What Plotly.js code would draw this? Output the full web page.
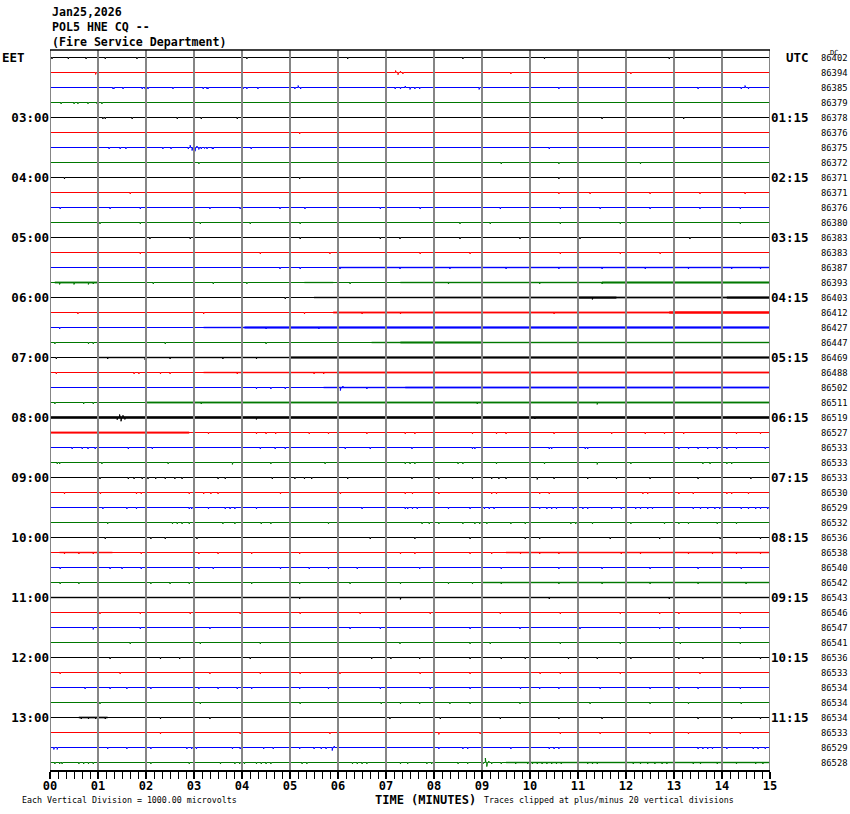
<!DOCTYPE html>
<html><head><meta charset="utf-8">
<script src="https://cdn.plot.ly/plotly-3.0.1.min.js"></script>
<style>html,body{margin:0;padding:0;background:#fff}#chart{width:850px;height:814px}</style>
</head><body><div id="chart"></div><script>
// ---------------- DATA ----------------
const titleLines = ['Jan25,2026', 'POL5 HNE CQ --', '(Fire Service Department)'];
const minuteTicks = [0,1,2,3,4,5,6,7,8,9,10,11,12,13,14,15];
const minuteLabels = ['00','01','02','03','04','05','06','07','08','09','10','11','12','13','14','15'];
const hourRows = [4,8,12,16,20,24,28,32,36,40,44];
const eetLabels = ['03:00','04:00','05:00','06:00','07:00','08:00','09:00','10:00','11:00','12:00','13:00'];
const utcLabels = ['01:15','02:15','03:15','04:15','05:15','06:15','07:15','08:15','09:15','10:15','11:15'];
const dcValues = [86402,86394,86385,86379,86378,86376,86375,86372,86371,86371,86376,86380,
  86383,86383,86387,86393,86403,86412,86427,86447,86469,86488,86502,86511,
  86519,86527,86533,86533,86533,86530,86529,86532,86536,86538,86540,86542,
  86543,86546,86547,86541,86536,86533,86534,86534,86534,86533,86529,86528];
// spikes per row: minute, or [minute, deflection in row spacings]
const spikes = [
 [0.04,0.38,0.75,1.15,1.81,4.1,6.2,8.6,10.3,12.9],
 [[0.95,.13],[7.2,-.13],[7.25,.15],[7.3,-.1],[7.35,.1],9.6,12.1],
 [1.31,1.33,1.52,1.92,1.98,2.04,2.56,3.19,3.27,3.29,4.02,4.1,4.33,[5.1,.1],[5.17,-.13],[5.22,.1],[7.19,.1],[7.3,.1],[7.4,-.1],[7.5,.13],[7.6,.1],[7.7,.1],[8.94,.13],[9.0,-.1],10.0,10.6,13.5,[14.4,.1],[14.48,-.13],[14.55,.1]],
 [0.23,0.5,0.58,0.79,0.98,1.08,4.0,14.0],
 [1.1,1.15,1.71,2.65,3.15,3.9,5.0,7.0,11.5,13.2],
 [5.2,11.0],
 [1.23,1.46,1.58,2.35,2.52,[2.88,.1],[2.92,-.15],[2.96,.2],[3.0,-.2],[3.02,.25],[3.06,-.1],[3.1,.13],[3.15,.1],[3.22,.07],3.27,3.38,3.4,4.19,10.4],
 [3.1,9.4,10.6,12.3],
 [0.3,5.2,10.6],
 [1.67,10.6,11.25,12.5,13.54,14.48],
 [0.21,1.25,1.88,2.0,3.33,3.96,4.79,5.31,6.88,7.71,9.38,10.63,11.46,12.5,13.54,14.38],
 [1.04,1.88,3.13,4.17,5.21,8.54,9.17,10.63,11.88,14.38],
 [2.08,2.92,5.21,6.88,7.29,8.54,9.79,11.04,13.33],
 [1.88,4.38,5.83,7.71,8.75,10.63,11.88,12.71],
 [4.79,5.21,6.04,7.29,8.33,9.0,9.5,10.0,10.6,11.5,12.4,13.3,14.2,14.8],
 [[0.2,.13],[0.5,.13],[0.8,.13],[0.9,.1],2.15,3.4,4.1,5.0,6.25,8.3,10.2,11.5],
 [4.9,6.0,7.0,[11.3,.13]],
 [0.58,1.0,3.2,5.3,6.5,7.3,10.5],
 [0.2,4.5,5.6],
 [0.1,0.8,0.9,2.4,4.5,5.0,7.0],
 [0.13,1.2,[1.98,.15],2.5,3.0,3.6,4.3],
 [0.13,1.0,1.75,1.85,2.3,2.5,3.9,5.5,5.7],
 [4.3,4.6,4.9,[6.05,.2],[6.1,-.1],6.6,7.0],
 [0.1,0.7,0.9,3.15,[8.9,.1],[11.4,.13]],
 [[1.4,.15],[1.45,-.2],[1.48,.25],[1.52,-.15],[1.56,.13],[4.3,.13],[10.1,.1]],
 [3.3,4.3,4.5,4.7,5.4,5.8,6.6,7.4,7.6,8.0,8.8,9.0,9.3,9.5,10.5,11.0,11.7,12.0,12.4,12.8,13.2,14.0,14.3,14.8],
 [0.46,0.67,0.79,0.94,1.0,1.63,2.13,4.38,4.69,4.9,6.15,6.67,7.54,8.8,8.85,10.4,10.45,11.15,11.2,13.1,13.3,13.5,13.7,13.9,14.1,14.3,14.9],
 [0.15,0.2,1.08,2.46,[3.8,.13],4.6,5.73,7.4,7.5,7.6,8.5,8.6,9.3,10.3,[11.4,.13],12.1,13.6,13.75,14.1,14.2],
 [1.04,1.63,1.75,1.92,2.04,2.2,2.4,2.6,2.75,3.5,3.65,4.63,5.1,5.3,5.45,6.2,7.54,8.1,8.8,9.2,9.35,9.5,[10.15,.13],10.5,11.2,11.8,12.5,13.5,14.6],
 [0.3,1.05,1.8,1.9,2.0,2.9,3.2,3.35,3.5,4.8,6.05,7.4,7.55,8.1,9.2,9.3,10.2,10.4,12.35,12.45,13.1,13.4,14.0,14.1,14.2,14.55],
 [1.1,1.6,1.8,2.9,2.95,3.0,3.3,3.65,3.75,3.85,4.0,4.3,6.0,6.5,7.4,7.45,7.55,7.65,8.3,8.75,9.05,9.15,9.25,10.0,10.2,10.35,10.45,10.55,10.9,11.0,11.1,11.2,11.7,11.9,12.2,12.3,12.45,12.55,13.0,13.4,13.55,13.7,13.85,13.95,14.4,14.55,14.7,14.8,14.95],
 [1.2,2.55,2.65,2.75,2.9,3.6,3.85,4.4,4.6,5.8,7.75,7.9,8.1,8.6,8.85,8.95,9.1,9.6,9.9,10.85,10.95,11.3,12.0,12.1,12.8,13.1,13.3,13.9,14.3],
 [1.15,2.1,2.4,3.06,4.0,6.67,7.6,8.75,9.9,10.2,11.67,12.7,13.96,14.8],
 [0.3,0.6,0.9,1.9,3.1,3.5,4.2,5.2,7.3,7.6,8.75,9.2,9.8,10.2,10.6,11.9,12.3,13.3,13.8,14.3,14.8],
 [0.21,1.25,1.5,1.9,3.1,3.4,4.8,5.4,5.8,6.4,7.7,9.4,10.6,11.5,12.0,12.5,13.5,14.4],
 [0.21,0.6,2.1,2.5,2.9,4.2,5.2,6.25,7.3,8.3,8.8,9.4,10.0,10.6,11.5,12.5,13.0,13.5,14.0,14.5],
 [5.2,[7.3,.13],10.4,12.9],
 [1.04,1.88,2.92,3.96,5.21,6.46,7.92,9.38,10.63,11.88,12.7,13.1,14.38],
 [[0.9,.13],[1.0,.1],1.88,3.33,5.0,6.25,6.88,8.75,9.79,11.04,12.7,13.1,14.38],
 [1.67,3.13,4.38,7.29,8.75,9.17,10.63,11.88,13.13,14.38],
 [1.25,2.3,2.7,4.17,6.7,7.1,7.7,8.75,9.4,9.9,10.8,11.4,12.1,13.1,13.6,14.8],
 [0.21,1.46,3.33,4.38,5.21,6.04,7.71,8.75,10.21,10.63,11.88,13.54],
 [0.73,1.25,1.6,2.1,3.1,3.5,3.9,4.2,5.2,5.8,6.88,7.92,8.75,9.8,10.2,10.6,11.46,12.5,13.1,13.5,14.38],
 [1.04,3.13,5.21,6.9,7.3,7.7,8.33,8.75,9.79,11.25,12.5,13.3,14.0,14.4],
 [0.65,0.8,0.95,1.15,2.3,3.33,5.0,7.08,8.13,9.38,10.6,11.0,11.5,13.5,14.2,14.8],
 [2.3,3.96,5.83,[8.1,.13],8.96,10.63,11.46,12.5,13.3,14.38],
 [[0.08,.13],[0.15,.13],1.0,1.2,1.6,2.1,2.85,2.95,3.05,3.8,3.96,4.45,4.65,5.2,5.5,5.65,5.75,[5.88,.2],[5.92,-.1],6.0,7.0,8.1,8.6,8.7,9.6,10.4,10.5,10.6,13.5,13.6,13.7,13.8,14.1,14.65,14.75,14.9],
 [0.1,0.2,0.25,0.6,0.7,0.8,0.9,2.1,2.9,3.55,3.85,3.95,4.05,4.3,4.4,4.5,4.6,5.25,5.35,6.3,6.4,6.5,6.6,7.3,7.45,7.85,7.95,8.5,8.7,[9.02,.1],[9.07,-.3],[9.1,.27],[9.14,-.1],[9.2,.1],9.4,9.7,9.95,10.05,10.15,10.25,10.35,10.45,10.55,10.65,11.2,11.3,11.4,12.0,12.15,12.3,12.45,12.6,12.75,12.85,13.4,13.55,13.9,14.3,14.7,14.85]
];
// background noise bands: row, start minute, end minute, half amplitude (row spacings)
const noiseBands = [
 [14,6.0,15,0.045],
 [15,0.1,1.0,0.06],[15,5.3,5.9,0.045],[15,7.3,15,0.045],[15,11.5,15,0.06],
 [16,5.5,15,0.045],[16,8.0,15,0.055],[16,11.0,11.8,0.075],[16,14.1,15,0.075],
 [17,5.9,15,0.06],[17,12.9,15,0.08],
 [18,3.2,4.05,0.045],[18,4.05,15,0.085],
 [19,6.7,15,0.055],[19,7.3,9.0,0.07],
 [20,1.0,5.0,0.05],[20,5.0,15,0.085],
 [21,3.2,6.0,0.045],[21,6.0,15,0.07],
 [22,5.7,7.4,0.045],[22,7.4,15,0.06],
 [23,2.0,15,0.06],
 [24,0,15,0.095],
 [25,0,2.9,0.075],
 [33,0.2,1.3,0.045],[33,9.5,15,0.045],
 [35,9.0,15,0.045],
 [36,0,15,0.045],
 [44,0.6,1.2,0.06],
 [47,9.5,15,0.045]
];

// ---------------- BUILD ----------------
const rowColors = ['#000000','#ff0000','#0000ff','#007800'];
const data = [];
const nRows = dcValues.length;
noiseBands.forEach(([r,s,e,a]) => {
  data.push({type:'scatter', mode:'lines', x:[s,e,e,s,s], y:[r-a,r-a,r+a,r+a,r-a],
    fill:'toself', fillcolor:rowColors[r%4], opacity:0.8, line:{width:0}, hoverinfo:'skip', showlegend:false});
});
for (let i = 0; i < nRows; i++) {
  const col = rowColors[i % 4];
  const xs = [0], ys = [i];
  const sp = spikes[i].map(s => Array.isArray(s) ? s : [s, 0.1]).sort((a,b)=>a[0]-b[0]);
  sp.forEach(([m,a]) => { xs.push(m, m, m+0.012); ys.push(i, i+a, i); });
  xs.push(15); ys.push(i);
  data.push({type:'scatter', mode:'lines', x:xs, y:ys, line:{color:col, width:1},
    hoverinfo:'skip', showlegend:false});
}
// right axis dummy trace
data.push({type:'scatter', mode:'markers', x:[0], y:[0], yaxis:'y2', marker:{opacity:0}, hoverinfo:'skip', showlegend:false});

const mono = 'DejaVu Sans Mono, monospace';
const yr = [nRows - 0.5, -0.5];
const annotations = [];
const titleY = [12, 27, 42];
titleLines.forEach((t,k) => annotations.push({xref:'paper', yref:'paper', x:0, y:(770-titleY[k])/720, text:t,
  showarrow:false, xanchor:'left', yanchor:'middle', font:{family:mono, size:11.6, weight:'bold', color:'#000'}}));
dcValues.forEach((v,i) => annotations.push({xref:'paper', yref:'y', x:1.0889, y:i, text:String(v),
  showarrow:false, xanchor:'center', yanchor:'middle', font:{family:mono, size:8.8, color:'#000'}}));
annotations.push({xref:'paper', yref:'y', x:1.0889, y:-0.32, text:'DC', showarrow:false,
  xanchor:'center', yanchor:'middle', font:{family:mono, size:7, color:'#000'}});
annotations.push({xref:'paper', yref:'y', x:-50/720, y:0, text:'EET', showarrow:false,
  xanchor:'left', yanchor:'middle', font:{family:mono, size:12.5, weight:'bold', color:'#000'}});
annotations.push({xref:'paper', yref:'y', x:(784-50)/720, y:0, text:'UTC', showarrow:false,
  xanchor:'left', yanchor:'middle', font:{family:mono, size:12.5, weight:'bold', color:'#000'}});
annotations.push({xref:'paper', yref:'paper', x:(20-50)/720, y:-30/720, text:'Each Vertical Division = 1000.00 microvolts',
  showarrow:false, xanchor:'left', yanchor:'middle', font:{family:mono, size:8.3, color:'#000'}});
annotations.push({xref:'paper', yref:'paper', x:(373-50)/720, y:-29.5/720, text:'TIME (MINUTES)',
  showarrow:false, xanchor:'left', yanchor:'middle', font:{family:mono, size:12, weight:'bold', color:'#000'}});
annotations.push({xref:'paper', yref:'paper', x:(482-50)/720, y:-30/720, text:'Traces clipped at plus/minus 20 vertical divisions',
  showarrow:false, xanchor:'left', yanchor:'middle', font:{family:mono, size:8.3, color:'#000'}});

const shapes = minuteTicks.map(m => ({type:'line', xref:'x', yref:'paper', x0:m, x1:m, y0:0, y1:1,
  line:{color:'#858585', width:2}, layer:'above'}));
shapes.push({type:'line', xref:'paper', yref:'paper', x0:0, x1:1, y0:1, y1:1, line:{color:'#000', width:1.5}, layer:'above'});

const layout = {
  width:850, height:814,
  margin:{l:50, r:80, t:50, b:44, pad:0},
  paper_bgcolor:'#fff', plot_bgcolor:'#fff',
  showlegend:false,
  xaxis:{range:[0,15], tickmode:'array', tickvals:minuteTicks, ticktext:minuteLabels,
    ticks:'outside', ticklen:7, tickwidth:1.2, tickcolor:'#000', showgrid:false, zeroline:false,
    showline:true, linecolor:'#000', linewidth:1.5, ticklabelstandoff:-3,
    tickfont:{family:mono, size:12, weight:'bold', color:'#000'},
    minor:{tickmode:'linear', tick0:0, dtick:1/6, ticks:'outside', ticklen:7, tickwidth:1, tickcolor:'#000', showgrid:false},
    fixedrange:true},
  yaxis:{range:yr, tickmode:'array', tickvals:hourRows, ticktext:eetLabels, ticks:'', showgrid:false,
    zeroline:false, showline:false, tickfont:{family:mono, size:12.5, weight:'bold', color:'#000'}, fixedrange:true},
  yaxis2:{range:yr, overlaying:'y', side:'right', anchor:'x', tickmode:'array', tickvals:hourRows, ticktext:utcLabels,
    ticks:'', showgrid:false, zeroline:false, showline:false,
    tickfont:{family:mono, size:12.5, weight:'bold', color:'#000'}, fixedrange:true},
  annotations, shapes
};
Plotly.newPlot('chart', data, layout, {staticPlot:true, displayModeBar:false});
</script></body></html>
